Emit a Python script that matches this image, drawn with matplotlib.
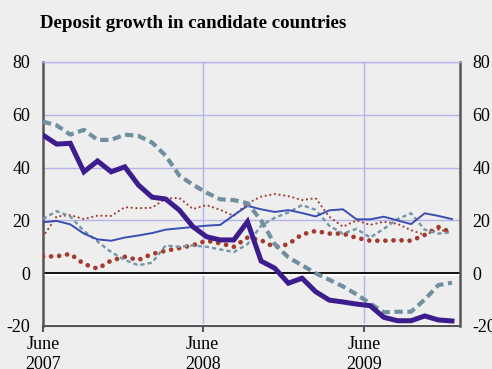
import numpy as np
import matplotlib
matplotlib.use("Agg")
import matplotlib.pyplot as plt

# Monthly observations, June 2007 onwards (index 0 = June 2007)
months = np.arange(31)

series_a = [52.3, 48.9, 49.2, 38.4, 42.5, 38.4, 40.3, 33.4, 28.8, 28.1,
            23.9, 17.6, 13.8, 12.6, 12.6, 19.5, 4.6, 1.9, -3.8, -1.9,
            -7.0, -10.2, -10.9, -11.7, -12.3, -16.7, -18.0, -18.0, -16.2, -17.7,
            -18.1]
series_b = [57.4, 56.0, 52.5, 54.3, 50.5, 50.5, 52.5, 52.0, 49.5, 44.5,
            37.0, 33.5, 30.5, 28.0, 27.7, 26.5, 20.0, 11.0, 6.0, 3.0,
            0.0, -2.5, -5.0, -8.0, -11.5, -14.8, -14.6, -14.6, -10.0, -4.5,
            -3.6]
series_c = [19.3, 19.8, 18.5, 15.0, 12.8, 12.3, 13.5, 14.3, 15.2, 16.5,
            17.0, 17.5, 18.0, 18.3, 22.0, 25.5, 24.2, 23.2, 23.9, 22.8,
            21.5, 23.8, 24.2, 20.4, 20.4, 21.4, 20.0, 18.6, 22.7, 21.7,
            20.5]
series_d = [20.5, 23.5, 21.5, 16.0, 12.0, 8.0, 5.0, 3.0, 4.0, 10.5,
            10.0, 10.5, 10.0, 9.0, 8.0, 11.0, 18.0, 21.0, 23.0, 25.8,
            24.0, 18.0, 15.0, 16.8, 13.5, 16.8, 20.5, 22.7, 16.5, 15.0,
            15.5]
series_e = [13.8, 21.5, 22.0, 20.5, 21.8, 21.7, 25.0, 24.6, 24.8, 28.3,
            28.5, 24.3, 25.8, 24.0, 21.7, 26.5, 29.0, 30.0, 29.2, 27.7,
            28.4, 21.4, 17.6, 20.0, 18.3, 19.5, 18.7, 16.3, 14.5, 16.5,
            15.5]
series_f = [6.3, 6.4, 7.3, 3.5, 1.7, 4.8, 6.2, 5.0, 7.3, 8.5,
            9.5, 10.6, 12.3, 11.3, 10.0, 13.5, 12.5, 9.8, 11.0, 14.7,
            16.0, 15.0, 15.0, 13.4, 12.3, 12.3, 12.5, 12.3, 14.5, 17.5,
            15.3]

# Year markers fall a little off the monthly grid of the series
tick_pos = [0, 11.71, 23.57]
tick_labels = ["June\n2007", "June\n2008", "June\n2009"]
y_ticks = [-20, 0, 20, 40, 60, 80]

bg = "#eeeeee"
grid_col = "#b4b4ea"

plt.rcParams["font.family"] = ["Liberation Serif", "DejaVu Serif"]

fig = plt.figure(figsize=(4.92, 3.69), dpi=100, facecolor=bg)
ax = fig.add_axes([43 / 492, 1 - 326 / 369, 417 / 492, 264 / 369])
ax.set_facecolor(bg)

# grid
for y in [20, 40, 60, 80]:
    ax.axhline(y, color=grid_col, lw=1.0, zorder=1)
for x in tick_pos[1:]:
    ax.axvline(x, color=grid_col, lw=1.0, zorder=1)
ax.axhline(-0.7, color="white", lw=1.6, zorder=1)
ax.axhline(0, color="black", lw=1.3, zorder=2)
ax.axhline(-19.5, color="white", lw=1.6, zorder=1)

ax.plot(months, series_f, color="#a33a2c", lw=3.4, dashes=(0.01, 1.7),
        dash_capstyle="round", zorder=3)
ax.plot(months, series_e, color="#a33a2c", lw=1.6, dashes=(0.01, 2.1),
        dash_capstyle="round", zorder=3)
ax.plot(months, series_d, color="#7596a6", lw=1.7, dashes=(1.8, 1.3), zorder=4)
ax.plot(months, series_c, color="#3a4db3", lw=1.4, zorder=5)
ax.plot(months, series_b, color="#7090a0", lw=3.0, dashes=(2.0, 1.1), zorder=6)
ax.plot(months, series_a, color="#3d1c8e", lw=3.6, solid_joinstyle="miter",
        zorder=7)

ax.set_xlim(0, 30.59)
ax.set_ylim(-20, 80)

ax.set_xticks(tick_pos)
ax.set_xticklabels(tick_labels, fontsize=13, linespacing=1.25)
ax.set_yticks(y_ticks)
ax.set_yticklabels([str(v) for v in y_ticks], fontsize=13)

ax.tick_params(axis="y", length=0, pad=9, labelright=True)
ax.tick_params(axis="x", direction="out", length=4, width=1.5,
               color="#555555", pad=3)

for side in ["left", "right"]:
    ax.spines[side].set_color("#555555")
    ax.spines[side].set_linewidth(1.8)
ax.spines["bottom"].set_color("#555555")
ax.spines["bottom"].set_linewidth(1.5)
ax.spines["top"].set_color(grid_col)
ax.spines["top"].set_linewidth(1.0)

fig.text(40 / 492, 1 - 28 / 369, "Deposit growth in candidate countries",
         fontsize=13.6, fontweight="bold", va="baseline", ha="left")

fig.savefig("out.png", dpi=100, facecolor=bg)
